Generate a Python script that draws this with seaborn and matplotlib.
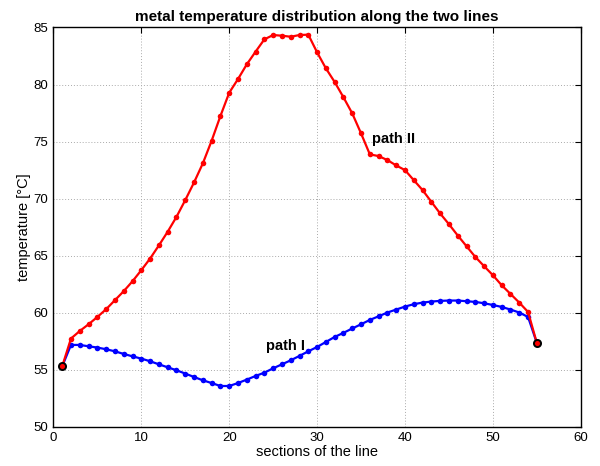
import matplotlib
matplotlib.use("Agg")
import matplotlib.pyplot as plt
import seaborn as sns
import pandas as pd

# sections of the line
sections = list(range(1, 56))

# path II (red)
path2 = [55.3, 57.74, 58.40, 58.99, 59.63, 60.31, 61.10, 61.89, 62.76, 63.73,
         64.75, 65.9, 67.1, 68.40, 69.87, 71.42, 73.09, 75.07, 77.24, 79.28,
         80.48, 81.77, 82.88, 83.96, 84.34, 84.28, 84.19, 84.34, 84.37, 82.82,
         81.42, 80.22, 78.88, 77.47, 75.72, 73.88, 73.73, 73.38, 72.91, 72.50,
         71.62, 70.75, 69.72, 68.70, 67.76, 66.77, 65.83, 64.89, 64.08, 63.29,
         62.41, 61.65, 60.89, 60.07, 57.35]

# path I (blue)
path1 = [55.3, 57.18, 57.18, 57.06, 56.95, 56.80, 56.62, 56.39, 56.18, 55.98,
         55.75, 55.48, 55.22, 54.96, 54.67, 54.37, 54.08, 53.84, 53.58, 53.58,
         53.84, 54.14, 54.46, 54.75, 55.13, 55.48, 55.83, 56.22, 56.62, 57.0,
         57.44, 57.88, 58.24, 58.62, 58.99, 59.37, 59.69, 60.02, 60.28, 60.54,
         60.75, 60.89, 60.98, 61.04, 61.07, 61.07, 61.01, 60.95, 60.83, 60.68,
         60.51, 60.28, 60.02, 59.63, 57.35]

xticks = [0, 10, 20, 30, 40, 50, 60]
yticks = [50, 55, 60, 65, 70, 75, 80, 85]

sns.set_style("white")
plt.rcParams['font.family'] = ['Liberation Sans', 'DejaVu Sans']
plt.rcParams['text.color'] = 'black'
plt.rcParams['axes.labelcolor'] = 'black'
plt.rcParams['xtick.color'] = 'black'
plt.rcParams['ytick.color'] = 'black'

df = pd.DataFrame({'section': sections, 'path I': path1, 'path II': path2})
ends = df.iloc[[0, -1]]

fig = plt.figure(figsize=(6, 4.66), dpi=100)
ax = fig.add_axes([0.089, 0.084, 0.879, 0.857])

sns.lineplot(data=df, x='section', y='path I', color='blue', marker='o',
             markersize=4, markeredgewidth=0, linewidth=1.6, ax=ax)
sns.lineplot(data=df, x='section', y='path II', color='red', marker='o',
             markersize=4, markeredgewidth=0, linewidth=1.6, ax=ax)
sns.scatterplot(data=ends, x='section', y='path II', color='red',
                edgecolor='black', linewidth=1.4, s=26, zorder=5, ax=ax)

ax.text(36.2, 75.2, 'path II', fontsize=10.5, fontweight='bold', va='center')
ax.text(24.2, 57.1, 'path I', fontsize=10.5, fontweight='bold', va='center')

ax.set_xlim(0, 60)
ax.set_ylim(50, 85)
ax.set_xticks(xticks)
ax.set_yticks(yticks)
ax.tick_params(direction='in', top=True, right=True, length=4, labelsize=9.5)
ax.grid(True, linestyle=(0, (1, 2)), color='#aaaaaa', linewidth=0.7)
for s in ax.spines.values():
    s.set_color('black')
    s.set_linewidth(1)

ax.set_title('metal temperature distribution along the two lines',
             fontsize=11, fontweight='bold', pad=5)
ax.set_xlabel('sections of the line', fontsize=10.5, labelpad=1)
ax.set_ylabel('temperature [°C]', fontsize=10.5, labelpad=2)

fig.savefig('out.png', dpi=100)
